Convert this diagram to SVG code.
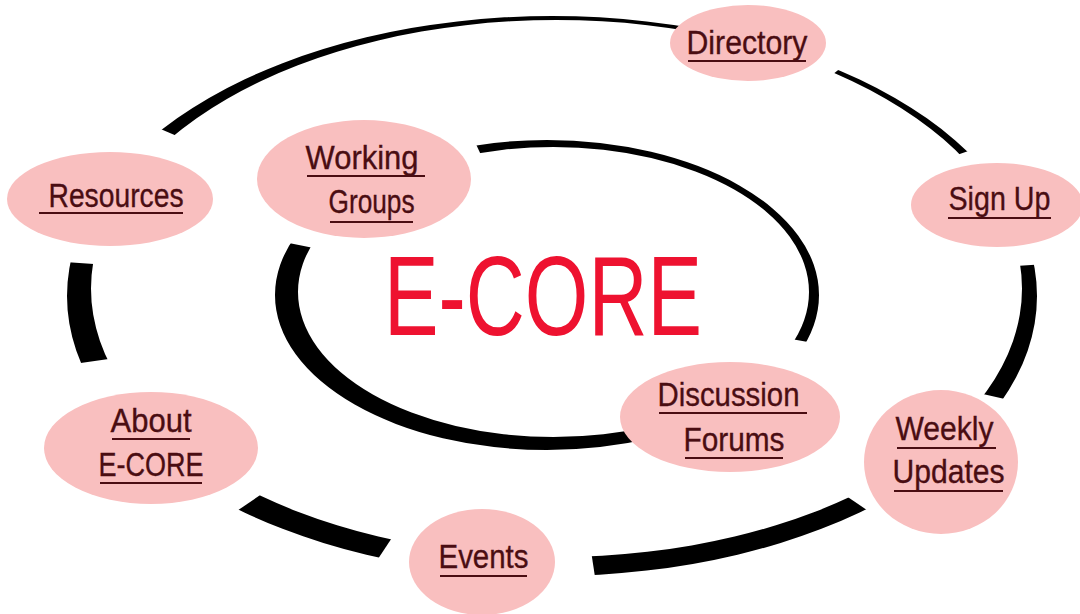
<svg xmlns="http://www.w3.org/2000/svg" width="1080" height="614" viewBox="0 0 1080 614">
  <style>
    .node ellipse { fill: #f9bfbf; }
    .lbl { font-family: "Liberation Sans", Arial, sans-serif; font-size: 34px; fill: #4a0d12; stroke: #4a0d12; stroke-width: 0.35px; }
    .ul { stroke: #4a0d12; stroke-width: 2; }
    .ring { fill: #000; fill-rule: evenodd; }
    .title { font-family: "Liberation Sans", Arial, sans-serif; font-size: 114px; fill: #ee1230; }
  </style>
  <defs>
    <!-- radial wedges that open the outer ring where the nodes sit -->
    <mask id="outerCuts" maskUnits="userSpaceOnUse" x="0" y="0" width="1080" height="614">
      <rect width="1080" height="614" fill="#fff"/>
      <polygon points="552,296 1068.2,-441.3 1258.3,-261.8"/>
      <polygon points="552,296 1402,0 1450.1,237.9"/>
      <polygon points="552,296 1429.6,495.4 1296.4,801.9"/>
      <polygon points="552,296 688.2,1185.7 55.3,1046.5"/>
      <polygon points="552,296 -191.5,803.2 -339,422.8"/>
      <polygon points="552,296 -345.8,233.2 -275.8,-57.1"/>
    </mask>
    <!-- radial wedges that open the inner ring -->
    <mask id="innerCuts" maskUnits="userSpaceOnUse" x="0" y="0" width="1080" height="614">
      <rect width="1080" height="614" fill="#fff"/>
      <polygon points="547,295 -41.2,176.4 291.5,-247.9"/>
      <polygon points="547,295 1137.5,401.3 891.2,786.5"/>
    </mask>
  </defs>

  <rect width="1080" height="614" fill="#fff"/>

  <!-- rings: eccentric ellipse pairs give the tapering stroke -->
  <g id="connectors">
    <path class="ring" mask="url(#outerCuts)"
          d="M67,296 a485,280 0 1,0 970,0 a485,280 0 1,0 -970,0 Z
             M91,288.5 a465.5,268.5 0 1,0 931,0 a465.5,268.5 0 1,0 -931,0 Z"/>
    <path class="ring" mask="url(#innerCuts)"
          d="M275,295 a272,155 0 1,0 544,0 a272,155 0 1,0 -544,0 Z
             M298,292 a255.5,145 0 1,0 511,0 a255.5,145 0 1,0 -511,0 Z"/>
  </g>

  <g id="title">
    <text class="title" x="384" y="335" textLength="318" lengthAdjust="spacingAndGlyphs">E-CORE</text>
  </g>

  <g id="directory" class="node">
    <ellipse cx="748" cy="43" rx="78" ry="38"/>
    <text class="lbl" x="686.5" y="54" textLength="121" lengthAdjust="spacingAndGlyphs">Directory</text>
    <line class="ul" x1="688" y1="61" x2="806" y2="61"/>
  </g>

  <g id="sign-up" class="node">
    <ellipse cx="997" cy="205" rx="86" ry="42"/>
    <text class="lbl" x="948.5" y="210" textLength="102" lengthAdjust="spacingAndGlyphs">Sign Up</text>
    <line class="ul" x1="948" y1="218" x2="1051" y2="218"/>
  </g>

  <g id="resources" class="node">
    <ellipse cx="110" cy="199" rx="103" ry="47"/>
    <text class="lbl" x="48.5" y="207" textLength="135" lengthAdjust="spacingAndGlyphs">Resources</text>
    <line class="ul" x1="39" y1="213" x2="183" y2="213"/>
  </g>

  <g id="working-groups" class="node">
    <ellipse cx="364" cy="179" rx="107" ry="59"/>
    <text class="lbl" x="305.5" y="169" textLength="113" lengthAdjust="spacingAndGlyphs">Working</text>
    <line class="ul" x1="307" y1="176" x2="425" y2="176"/>
    <text class="lbl" x="328.5" y="213" textLength="86" lengthAdjust="spacingAndGlyphs">Groups</text>
    <line class="ul" x1="330" y1="222" x2="413" y2="222"/>
  </g>

  <g id="about" class="node">
    <ellipse cx="151" cy="448" rx="107" ry="56"/>
    <text class="lbl" x="110.5" y="432" textLength="81" lengthAdjust="spacingAndGlyphs">About</text>
    <line class="ul" x1="112" y1="439" x2="190" y2="439"/>
    <text class="lbl" x="98.5" y="476" textLength="105" lengthAdjust="spacingAndGlyphs">E-CORE</text>
    <line class="ul" x1="100" y1="483" x2="202" y2="483"/>
  </g>

  <g id="events" class="node">
    <ellipse cx="482" cy="562" rx="73" ry="53"/>
    <text class="lbl" x="438.5" y="568" textLength="90" lengthAdjust="spacingAndGlyphs">Events</text>
    <line class="ul" x1="440" y1="576" x2="527" y2="576"/>
  </g>

  <g id="discussion-forums" class="node">
    <ellipse cx="730" cy="417" rx="110" ry="55"/>
    <text class="lbl" x="657.5" y="406" textLength="142" lengthAdjust="spacingAndGlyphs">Discussion</text>
    <line class="ul" x1="659" y1="413" x2="807" y2="413"/>
    <text class="lbl" x="683.5" y="451" textLength="101" lengthAdjust="spacingAndGlyphs">Forums</text>
    <line class="ul" x1="685" y1="458" x2="783" y2="458"/>
  </g>

  <g id="weekly-updates" class="node">
    <ellipse cx="941" cy="462" rx="77" ry="72"/>
    <text class="lbl" x="895.5" y="440" textLength="98" lengthAdjust="spacingAndGlyphs">Weekly</text>
    <line class="ul" x1="897" y1="448" x2="996" y2="448"/>
    <text class="lbl" x="892.5" y="483" textLength="112" lengthAdjust="spacingAndGlyphs">Updates</text>
    <line class="ul" x1="894" y1="491" x2="1003" y2="491"/>
  </g>
</svg>
